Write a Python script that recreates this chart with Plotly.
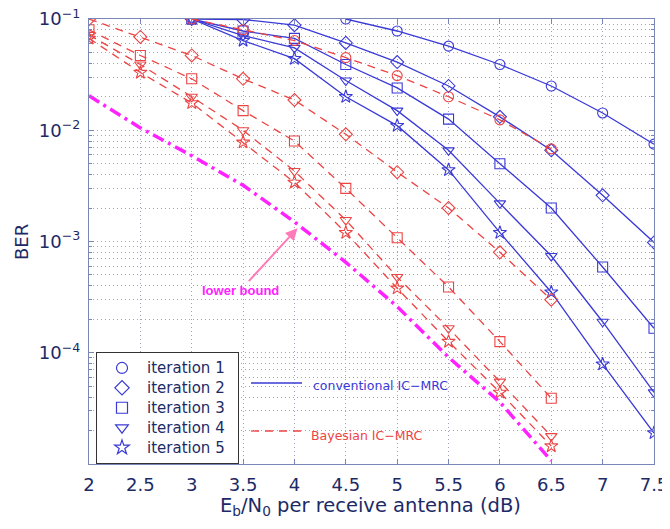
import plotly.graph_objects as go

# ---------------- data ----------------
x_conv = [3, 3.5, 4, 4.5, 5, 5.5, 6, 6.5, 7, 7.5]
conv_it1_x = [4.5, 5, 5.5, 6, 6.5, 7, 7.5]
conv_it1 = [0.1, 0.078, 0.057, 0.039, 0.025, 0.0143, 0.0075]
conv_it2 = [0.1, 0.099, 0.088, 0.061, 0.041, 0.025, 0.0132, 0.0066, 0.0026, 0.00098]
conv_it3 = [0.1, 0.078, 0.067, 0.039, 0.024, 0.0126, 0.005, 0.002, 0.00059, 0.000166]
conv_it4 = [0.1, 0.071, 0.055, 0.028, 0.015, 0.0066, 0.0022, 0.00074, 0.00019, 4.4e-5]
conv_it5 = [0.1, 0.064, 0.044, 0.020, 0.011, 0.0044, 0.0012, 0.00035, 7.9e-5, 1.9e-5]

x_bayes = [2, 2.5, 3, 3.5, 4, 4.5, 5, 5.5, 6, 6.5]
bayes_it1_x = [3, 3.5, 4, 4.5, 5, 5.5, 6, 6.5]
bayes_it1 = [0.1, 0.080, 0.064, 0.045, 0.031, 0.020, 0.0124, 0.0068]
bayes_it2 = [0.1, 0.069, 0.047, 0.029, 0.0187, 0.0092, 0.0042, 0.0020, 0.00080, 0.0003]
bayes_it3 = [0.08, 0.047, 0.029, 0.015, 0.0080, 0.0030, 0.00108, 0.00039, 0.000126, 3.9e-5]
bayes_it4 = [0.072, 0.039, 0.020, 0.010, 0.0043, 0.00156, 0.00048, 0.000166, 5.5e-5, 1.78e-5]
bayes_it5 = [0.067, 0.033, 0.0176, 0.0078, 0.0034, 0.0012, 0.00038, 0.000126, 4.4e-5, 1.45e-5]

x_lb = [2, 2.5, 3, 3.5, 4, 4.5, 5, 5.5, 6, 6.5]
lower_bound = [0.0204, 0.0105, 0.0059, 0.0032, 0.0015, 0.00065, 0.00026, 9.1e-5, 3.6e-5, 1.07e-5]

legend_names = ["iteration 1", "iteration 2", "iteration 3", "iteration 4", "iteration 5"]
symbols = ["circle-open", "diamond-open", "square-open", "triangle-down-open", "star-open"]

x_ticks = [2, 2.5, 3, 3.5, 4, 4.5, 5, 5.5, 6, 6.5, 7, 7.5]
y_ticks = [1e-5, 1e-4, 1e-3, 1e-2, 1e-1]
y_ticktext = ["", "10<sup>\u22124</sup>", "10<sup>\u22123</sup>", "10<sup>\u22122</sup>", "10<sup>\u22121</sup>"]
y_minor = [m * 10.0 ** e for e in range(-5, -1) for m in range(2, 10)]

BLUE = "#3a3ad6"
RED = "#ec4444"
MAG = "#ff22ff"
NAVY = "#1c2a66"
AXC = "#7a86b8"
GRID = "#9ea4bc"
FONT = "DejaVu Sans, Verdana"
AFONT = "Liberation Sans, Arial"

fig = go.Figure()

conv_sets = [(conv_it1_x, conv_it1), (x_conv, conv_it2), (x_conv, conv_it3), (x_conv, conv_it4), (x_conv, conv_it5)]
bayes_sets = [(bayes_it1_x, bayes_it1), (x_bayes, bayes_it2), (x_bayes, bayes_it3), (x_bayes, bayes_it4), (x_bayes, bayes_it5)]

for (xs, ys), sym in zip(conv_sets, symbols):
    fig.add_trace(go.Scatter(x=xs, y=ys, mode="lines+markers", showlegend=False,
                             line=dict(color=BLUE, width=1.3),
                             marker=dict(symbol=sym, size=10, color=BLUE, line=dict(width=1.1, color=BLUE))))
for (xs, ys), sym in zip(bayes_sets, symbols):
    fig.add_trace(go.Scatter(x=xs, y=ys, mode="lines+markers", showlegend=False,
                             line=dict(color=RED, width=1.3, dash="8px,6px"),
                             marker=dict(symbol=sym, size=10, color=RED, line=dict(width=1.1, color=RED))))

fig.add_trace(go.Scatter(x=x_lb, y=lower_bound, mode="lines", showlegend=False,
                         line=dict(color=MAG, width=3.5, dash="12px,5px,3px,5px")))

# legend entries (marker only)
for name, sym in zip(legend_names, symbols):
    fig.add_trace(go.Scatter(x=[None], y=[None], mode="markers",
                             name=f'<span style="font-size:15px">{name}</span>\u00a0\u00a0',
                             marker=dict(symbol=sym, size=11, color=BLUE, line=dict(width=1.2, color=BLUE))))

# page offset (body margin) and paper-coordinate helpers in page pixels
OFF = 8
L, R, T, B = 89, 654, 19, 464
W, H = float(R - L), float(B - T)
def px_x(p):
    return (p - L) / W
def px_y(p):
    return (B - p) / H

fig.add_shape(type="line", xref="paper", yref="paper", x0=px_x(251), x1=px_x(302),
              y0=px_y(383), y1=px_y(383), line=dict(color=BLUE, width=1.3))
fig.add_shape(type="line", xref="paper", yref="paper", x0=px_x(251), x1=px_x(302),
              y0=px_y(431), y1=px_y(431), line=dict(color=RED, width=1.3, dash="8px,6px"))
fig.add_annotation(xref="paper", yref="paper", x=px_x(311), y=px_y(385), text="conventional IC\u2212MRC",
                   showarrow=False, xanchor="left", yanchor="middle",
                   font=dict(family=FONT, size=12.5, color=BLUE))
fig.add_annotation(xref="paper", yref="paper", x=px_x(309), y=px_y(435), text="Bayesian IC\u2212MRC",
                   showarrow=False, xanchor="left", yanchor="middle",
                   font=dict(family=FONT, size=12.5, color=RED))

# lower bound annotation
fig.add_annotation(x=4.03, y=-2.88, xref="x", yref="y", text="<b>lower bound</b>",
                   showarrow=True, ax=-57, ay=62, arrowhead=2, arrowsize=1.2, arrowwidth=2,
                   arrowcolor="#ff7ab8",
                   font=dict(family=AFONT, size=13, color=MAG))

# axis titles
fig.add_annotation(xref="paper", yref="paper", x=px_x(370), y=px_y(506),
                   text="E<sub>b</sub>/N<sub>0</sub> per receive antenna (dB)",
                   showarrow=False, xanchor="center", yanchor="middle",
                   font=dict(family=FONT, size=19.5, color=NAVY))
fig.add_annotation(xref="paper", yref="paper", x=px_x(22), y=px_y(242), text="BER", textangle=-90,
                   showarrow=False, xanchor="center", yanchor="middle",
                   font=dict(family=FONT, size=18, color=NAVY))

fig.update_layout(
    width=670 - OFF, height=529 - OFF,
    margin=dict(l=L - OFF, r=670 - R, t=T - OFF, b=529 - B),
    paper_bgcolor="white", plot_bgcolor="white",
    font=dict(family=FONT, size=18, color=NAVY),
    legend=dict(x=px_x(96), y=px_y(352), xanchor="left", yanchor="top",
                bgcolor="white", bordercolor="#333333", borderwidth=1,
                font=dict(family=FONT, size=13, color=NAVY), tracegroupgap=0, itemwidth=40),
    xaxis=dict(range=[2, 7.5], tickvals=x_ticks, ticktext=[f"{v:g}" for v in x_ticks],
               showgrid=True, gridcolor=GRID, griddash="1px,3px", gridwidth=1,
               zeroline=False, showline=True, linecolor=AXC, linewidth=1.2, mirror="ticks",
               ticks="inside", ticklen=5, tickcolor=AXC, automargin=False, ticklabelstandoff=4,
               ticklabeloverflow="allow",
               tickfont=dict(family=FONT, size=18, color=NAVY)),
    yaxis=dict(type="log", range=[-5, -1], tickvals=y_ticks, ticktext=y_ticktext,
               showgrid=True, gridcolor=GRID, griddash="1px,3px", gridwidth=1,
               zeroline=False, showline=True, linecolor=AXC, linewidth=1.2, mirror="ticks",
               ticks="inside", ticklen=5, tickcolor=AXC, automargin=False, ticklabelstandoff=4,
               ticklabeloverflow="allow",
               tickfont=dict(family=FONT, size=18, color=NAVY),
               minor=dict(tickvals=y_minor, ticks="inside", ticklen=3, tickcolor=AXC, showgrid=True,
                          gridcolor=GRID, griddash="1px,3px", gridwidth=1)),
)

fig.write_html("out.html")
